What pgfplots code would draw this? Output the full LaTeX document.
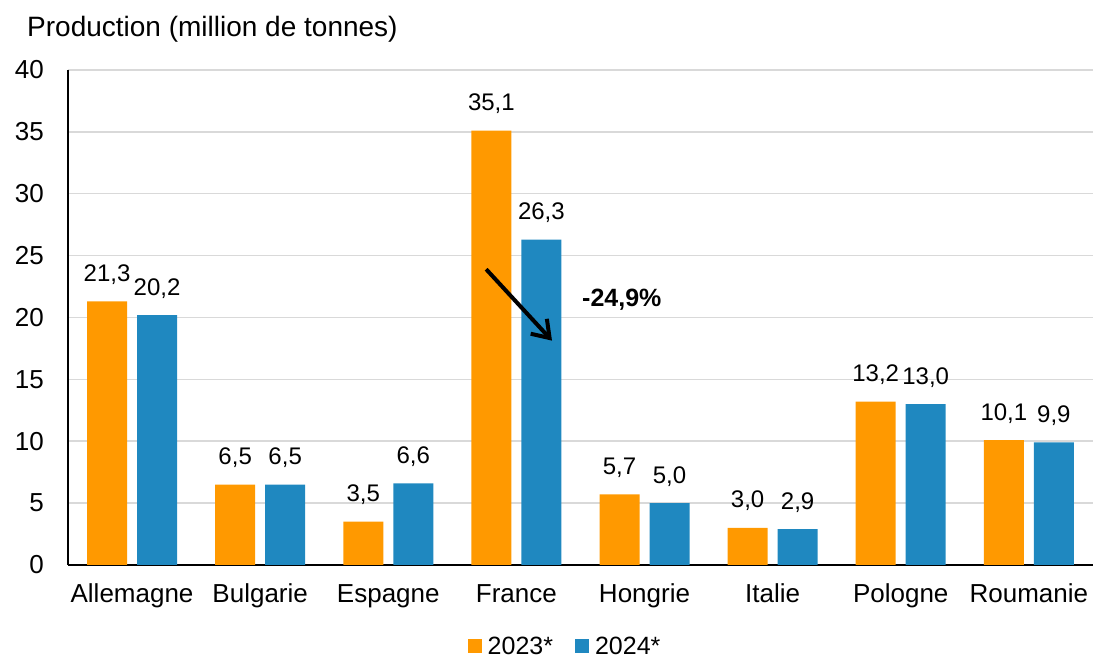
\documentclass[border=0pt]{standalone}
\usepackage{fontspec}
\setmainfont{Liberation Sans}
\usepackage{pgfplots}
\pgfplotsset{compat=1.18}
\usetikzlibrary{arrows.meta}
\definecolor{corange}{RGB}{255,153,0}
\definecolor{cblue}{RGB}{31,136,192}
\definecolor{cgrid}{RGB}{217,217,217}
\begin{document}
\begin{tikzpicture}
\begin{axis}[
  at={(68pt,95pt)}, anchor=south west,
  scale only axis, width=1025pt, height=495pt,
  ybar=10pt, bar width=40pt,
  xmin=-0.5, xmax=7.5, ymin=0, ymax=40,
  xtick={0,...,7},
  xticklabels={Allemagne,Bulgarie,Espagne,France,Hongrie,Italie,Pologne,Roumanie},
  ytick={0,5,...,40},
  /pgf/number format/assume math mode=true,
  axis lines*=left,
  axis line style={black, line width=1.5pt, -},
  major tick length=0pt,
  ymajorgrids, grid style={cgrid, line width=1.5pt},
  xticklabel style={font=\fontsize{26}{30}\selectfont, anchor=base, inner sep=0pt, yshift=-38pt},
  yticklabel style={font=\fontsize{26}{30}\selectfont, anchor=east, inner sep=0pt, xshift=-24pt},
  nodes near coords={\pgfmathprintnumber[fixed,fixed zerofill,precision=1,use comma,assume math mode=true]{\pgfplotspointmeta}},
  every node near coord/.append style={font=\fontsize{24}{28}\selectfont, anchor=base, inner sep=0pt, yshift=20pt, black},
  legend columns=2,
  legend style={draw=none, fill=none, at={(0.484,-0.164)}, anchor=center,
    font=\fontsize{25}{30}\selectfont,
    /tikz/every even column/.append style={column sep=22pt},
    nodes={inner sep=0pt}},
  legend image code/.code={\fill[#1] (0pt,-7pt) rectangle (14pt,7pt);},
  legend cell align=left,
]
\addplot[fill=corange, draw=none] coordinates {(0,21.3) (1,6.5) (2,3.5) (3,35.1) (4,5.7) (5,3.0) (6,13.2) (7,10.1)};
\addlegendentry{\hspace{6pt}2023*}
\addplot[fill=cblue, draw=none] coordinates {(0,20.2) (1,6.5) (2,6.6) (3,26.3) (4,5.0) (5,2.9) (6,13.0) (7,9.9)};
\addlegendentry{\hspace{6pt}2024*}
\draw[line width=4pt, -{Straight Barb[length=16pt, width=22pt, line width=4pt]}] (axis cs:2.764,23.9) -- (axis cs:3.278,18.13);
\node[font=\fontsize{25}{30}\selectfont\bfseries, anchor=center] at (axis cs:3.823,21.4) {-24,9\%};
\end{axis}
\node[anchor=base west, inner sep=0pt, font=\fontsize{28}{32}\selectfont] at (27pt,623pt) {Production (million de tonnes)};
\pgfresetboundingbox
\useasboundingbox (0,0) rectangle (1095pt,660pt);
\end{tikzpicture}
\end{document}
